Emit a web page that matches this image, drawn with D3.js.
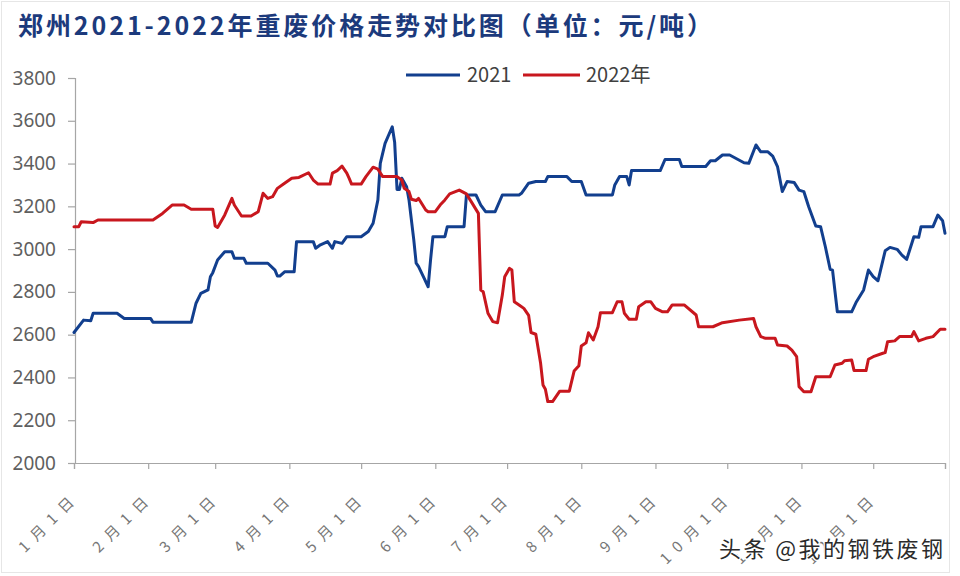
<!DOCTYPE html>
<html>
<head>
<meta charset="utf-8">
<script src="https://cdn.jsdelivr.net/npm/d3@7/dist/d3.min.js"></script>
<style>
  html, body { margin: 0; padding: 0; background: #fff; }
  svg { display: block; }
</style>
</head>
<body>
<svg id="chart" width="960" height="576"></svg>
<script>
// ---------- DATA ----------
const title = "郑州2021-2022年重废价格走势对比图（单位：元/吨）";
const seriesNames = ["2021", "2022年"];
const yTicks = [2000, 2200, 2400, 2600, 2800, 3000, 3200, 3400, 3600, 3800];
const monthTicks = ["01-01","02-01","03-01","04-01","05-01","06-01","07-01","08-01","09-01","10-01","11-01","12-01"];
const monthLabels = ["1月1日","2月1日","3月1日","4月1日","5月1日","6月1日","7月1日","8月1日","9月1日","10月1日","11月1日","12月1日"];
const watermark = "头条 @我的钢铁废钢";

const dates2021 = ["01-01","01-05","01-08","01-09","01-19","01-22","02-02","02-03","02-19","02-21","02-23","02-26","02-27","02-28","03-02","03-05","03-08","03-09","03-13","03-14","03-23","03-26","03-27","03-28","03-30","04-03","04-04","04-11","04-12","04-14","04-17","04-19","04-20","04-23","04-25","05-01","05-04","05-06","05-08","05-09","05-11","05-14","05-15","05-16","05-17","05-18","05-20","05-21","05-23","05-24","05-25","05-27","05-29","05-30","05-31","06-05","06-06","06-13","06-14","06-18","06-20","06-22","06-26","06-29","07-06","07-07","07-10","07-13","07-17","07-18","07-26","07-28","08-01","08-03","08-14","08-15","08-17","08-20","08-21","08-22","09-03","09-05","09-11","09-12","09-22","09-24","09-26","09-29","10-02","10-08","10-10","10-13","10-15","10-18","10-20","10-22","10-24","10-26","10-29","10-31","11-02","11-04","11-07","11-09","11-11","11-13","11-14","11-16","11-22","11-24","11-27","11-29","12-01","12-03","12-06","12-08","12-11","12-13","12-15","12-18","12-20","12-21","12-26","12-28","12-30","12-31"];
const values2021 = [2610,2668,2665,2700,2700,2676,2676,2658,2658,2747,2793,2809,2871,2890,2949,2988,2988,2957,2957,2934,2934,2902,2874,2874,2894,2894,3035,3035,3004,3020,3035,3004,3035,3027,3058,3058,3082,3121,3230,3401,3494,3572,3500,3279,3279,3331,3292,3230,3043,2934,2918,2871,2824,2949,3058,3058,3105,3105,3253,3253,3206,3175,3175,3253,3253,3261,3308,3316,3316,3339,3339,3316,3316,3253,3253,3300,3339,3339,3300,3367,3367,3419,3419,3386,3386,3413,3413,3440,3440,3404,3401,3487,3455,3455,3435,3386,3269,3316,3311,3276,3269,3199,3108,3105,3011,2906,2902,2707,2707,2754,2809,2902,2871,2852,2992,3008,2999,2972,2952,3058,3055,3105,3105,3159,3133,3074];

const dates2022 = ["01-01","01-03","01-04","01-09","01-11","02-03","02-07","02-11","02-16","02-19","02-28","03-01","03-02","03-05","03-08","03-09","03-12","03-16","03-19","03-21","03-23","03-25","03-27","03-30","04-02","04-05","04-09","04-11","04-13","04-18","04-19","04-21","04-23","04-25","04-26","04-27","05-01","05-03","05-06","05-08","05-10","05-16","05-18","05-19","05-21","05-22","05-24","05-25","05-28","05-29","06-01","06-03","06-05","06-07","06-11","06-14","06-16","06-19","06-20","06-21","06-23","06-25","06-27","06-29","06-30","07-02","07-03","07-04","07-06","07-08","07-10","07-11","07-13","07-15","07-16","07-17","07-18","07-20","07-23","07-27","07-29","07-31","08-01","08-03","08-04","08-06","08-08","08-09","08-14","08-16","08-18","08-19","08-21","08-24","08-25","08-28","08-30","09-01","09-04","09-06","09-08","09-13","09-18","09-19","09-25","09-29","10-06","10-12","10-13","10-15","10-17","10-21","10-22","10-26","10-28","10-30","10-31","11-02","11-05","11-07","11-13","11-15","11-18","11-19","11-22","11-23","11-28","11-29","12-01","12-05","12-06","12-07","12-10","12-12","12-17","12-18","12-20","12-23","12-26","12-29","12-31"];
const values2022 = [3105,3105,3128,3124,3136,3136,3167,3206,3206,3186,3186,3108,3101,3160,3237,3206,3155,3155,3175,3261,3237,3245,3284,3308,3331,3335,3357,3323,3304,3304,3355,3367,3388,3355,3331,3304,3304,3339,3383,3374,3339,3339,3323,3284,3269,3233,3227,3237,3183,3175,3175,3206,3230,3258,3276,3258,3222,3167,2809,2801,2700,2661,2656,2785,2871,2910,2902,2754,2739,2723,2690,2610,2602,2466,2365,2345,2287,2287,2336,2336,2430,2455,2547,2562,2609,2575,2637,2703,2703,2754,2754,2700,2672,2672,2731,2754,2754,2723,2707,2707,2739,2739,2692,2637,2637,2656,2668,2676,2637,2591,2583,2583,2552,2547,2528,2497,2357,2333,2333,2403,2403,2458,2466,2478,2481,2432,2432,2485,2497,2513,2516,2567,2571,2591,2591,2614,2571,2583,2591,2625,2625];

// ---------- CHART ----------
const svg = d3.select("#chart");
const W = 960, H = 576;
const margin = { left: 75, right: 15, top: 78, bottom: 113 };
const colors = ["#123f8e", "#c8171e"];
const axisColor = "#a6a6a6";
const textColor = "#5f5f5f";

const parse = s => new Date(2021, +s.slice(0, 2) - 1, +s.slice(3, 5));

const x = d3.scaleTime()
  .domain([new Date(2021, 0, 1), new Date(2021, 11, 31)])
  .range([74, 945]);
const y = d3.scaleLinear().domain([2000, 3800]).range([H - margin.bottom, margin.top]);

// faint frame
svg.append("rect").attr("x", 1.5).attr("y", 1.5).attr("width", 948).attr("height", 571)
  .attr("fill", "none").attr("stroke", "#e6e6e6").attr("stroke-width", 1);

// title
svg.append("text")
  .attr("x", 18).attr("y", 35)
  .attr("font-family", "'Noto Sans CJK SC', sans-serif")
  .attr("font-weight", "bold")
  .attr("font-size", 25)
  .attr("fill", "#1c3a7c")
  .attr("textLength", 694)
  .attr("lengthAdjust", "spacing")
  .text(title);

// y axis
const yAxis = d3.axisLeft(y).tickValues(yTicks).tickSize(7).tickPadding(12).tickFormat(d3.format("d"));
const gy = svg.append("g").attr("transform", `translate(${margin.left},0)`).call(yAxis);
gy.select(".domain").attr("stroke", axisColor).attr("stroke-width", 1.2);
gy.selectAll(".tick line").attr("stroke", axisColor).attr("stroke-width", 1.2);
gy.selectAll(".tick text")
  .attr("font-family", "'Noto Sans', 'Open Sans', sans-serif")
  .attr("font-size", 19).attr("fill", textColor);

// x axis
const tickDates = monthTicks.map(parse).concat([x.domain()[1]]);
const labelMap = new Map(monthTicks.map((m, i) => [+parse(m), monthLabels[i]]));
const xAxis = d3.axisBottom(x).tickValues(tickDates).tickSize(6).tickFormat(d => labelMap.get(+d) || "");
const gx = svg.append("g").attr("transform", `translate(0,${y(2000)})`).call(xAxis);
gx.select(".domain").attr("stroke", axisColor).attr("stroke-width", 1.2);
gx.selectAll(".tick line").attr("stroke", axisColor).attr("stroke-width", 1.2);
gx.selectAll(".tick text")
  .attr("font-family", "'Noto Sans CJK SC', sans-serif")
  .attr("font-size", 15)
  .attr("letter-spacing", 8)
  .attr("fill", "#777777")
  .attr("text-anchor", "end")
  .attr("y", 0).attr("dy", 0)
  .attr("transform", "translate(6,35) rotate(-45)");

// lines
const line = d3.line().x(d => x(d[0])).y(d => y(d[1])).curve(d3.curveLinear);
const data = [
  dates2021.map((d, i) => [parse(d), values2021[i]]),
  dates2022.map((d, i) => [parse(d), values2022[i]])
];
data.forEach((s, i) => {
  svg.append("path")
    .datum(s)
    .attr("fill", "none")
    .attr("stroke", colors[i])
    .attr("stroke-width", 3)
    .attr("stroke-linejoin", "round")
    .attr("stroke-linecap", "round")
    .attr("d", line);
});

// legend
const legend = [
  { x1: 406, x2: 460, tx: 467 },
  { x1: 523, x2: 580, tx: 586 }
];
legend.forEach((l, i) => {
  svg.append("line").attr("x1", l.x1).attr("x2", l.x2).attr("y1", 75).attr("y2", 75)
    .attr("stroke", colors[i]).attr("stroke-width", 3);
  svg.append("text").attr("x", l.tx).attr("y", 82)
    .attr("font-family", "'Noto Sans CJK SC', 'Noto Sans', sans-serif")
    .attr("font-size", 20).attr("fill", "#404040")
    .text(seriesNames[i]);
});

// watermark
svg.append("text")
  .attr("x", 719).attr("y", 557)
  .attr("font-family", "'Noto Sans CJK SC', sans-serif")
  .attr("font-size", 22)
  .attr("fill", "#2b2b2b")
  .attr("stroke", "#ffffff").attr("stroke-width", 2.5).attr("paint-order", "stroke")
  .attr("textLength", 224).attr("lengthAdjust", "spacing")
  .text(watermark);
</script>
</body>
</html>
